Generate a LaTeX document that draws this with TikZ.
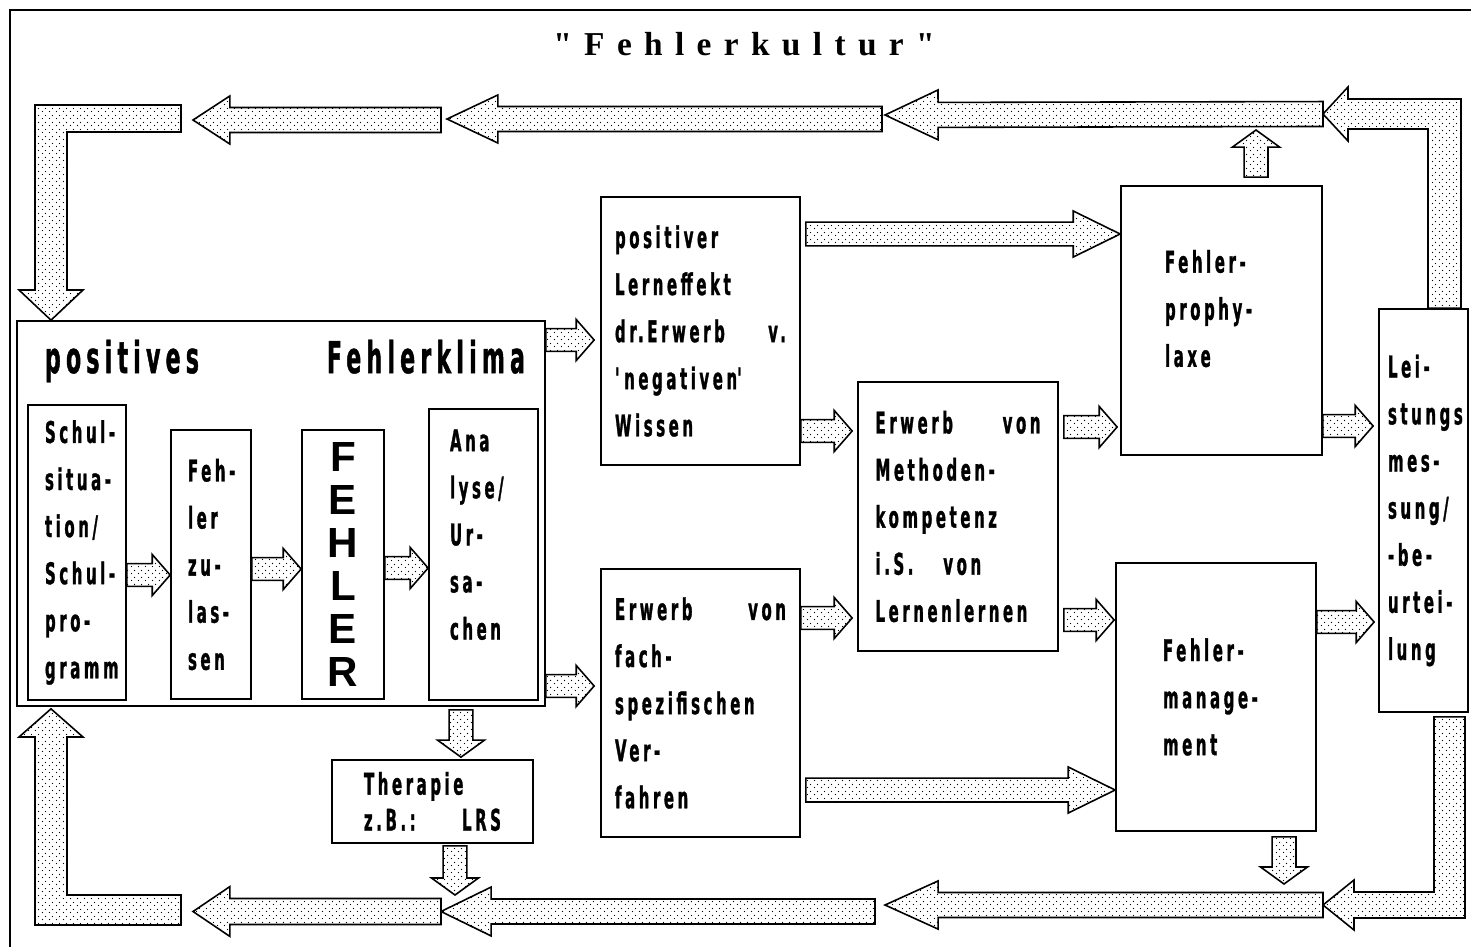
\documentclass[tikz,border=0pt]{standalone}
\usepackage{fontspec}
\usetikzlibrary{calc,positioning,patterns.meta}
\newfontfamily\pixelschrift{DejaVu Sans}[FakeStretch=0.5,LetterSpace=12,FakeBold=1]
\newfontfamily\grossschrift{Liberation Sans}
\newfontfamily\titelschrift{Liberation Serif}[LetterSpace=37]
\newcommand{\keintrennen}{\exhyphenpenalty 10000\relax\hyphenpenalty 10000\relax}
\tikzdeclarepattern{
  name=punkte,
  type=uncolored,
  bottom left={(0pt,0pt)},
  top right={(3.7pt,3.7pt)},
  tile size={(3.7pt,3.7pt)},
  code={
    \pgfpathcircle{\pgfqpoint{0.9pt}{0.9pt}}{0.4pt}
    \pgfpathcircle{\pgfqpoint{2.75pt}{2.75pt}}{0.4pt}
    \pgfusepath{fill}
  }
}
\tikzset{
  kasten/.style={
    draw,
    line width=1pt,
    inner sep=0pt,
    align=left,
    font={\pixelschrift\bfseries\fontsize{17}{26.8}\selectfont\keintrennen}
  },
  pfeil/.style={
    draw,
    line width=.9pt,
    preaction={fill=white},
    pattern=punkte,
    pattern color=black
  }
}
% #1 Anfang, #2 Spitze, #3 halbe Schaftbreite, #4 halbe Kopfbreite, #5 Kopflaenge
\newcommand{\blockpfeil}[5]{%
  \path[pfeil] let \p1=(#1), \p2=(#2),
    \n1={atan2(\y2-\y1,\x2-\x1)},
    \n2={veclen(\x2-\x1,\y2-\y1)-#5} in
    ($(\p1)+(\n1+90:#3)$) -- ($(\p1)+(\n1:{\n2*1pt})+(\n1+90:#3)$)
    -- ($(\p1)+(\n1:{\n2*1pt})+(\n1+90:#4)$) -- (\p2)
    -- ($(\p1)+(\n1:{\n2*1pt})+(\n1-90:#4)$) -- ($(\p1)+(\n1:{\n2*1pt})+(\n1-90:#3)$)
    -- ($(\p1)+(\n1-90:#3)$) -- cycle;}
\newcommand{\kleinpfeil}[2]{\blockpfeil{#1}{#2}{6.5pt}{11.7pt}{10.2pt}}
\newcommand{\senkpfeil}[2]{\blockpfeil{#1}{#2}{6.8pt}{13.4pt}{9.7pt}}
\begin{document}
\begin{tikzpicture}[x=0.02cm,y=-0.02cm]
\useasboundingbox (0,0) rectangle (1471,947);
\draw[line width=1pt] (10,947) -- (10,10) -- (1471,10);
\node[font=\titelschrift\bfseries\fontsize{19}{19}\selectfont] (titel) at (744,44) {"Fehlerkultur"};

% positives Fehlerklima
\node[kasten, minimum width=10.56cm, minimum height=7.7cm] (klima) at (281,513.5) {};
\node[font=\pixelschrift\bfseries\fontsize{25}{25}\selectfont, text width=9.6cm, align=left] (klimatext) at (285,361) {positives\hfill Fehlerklima};
\node[kasten, minimum width=1.96cm, minimum height=5.9cm, text width=1.28cm] (schul) at (77,552.5) {Schul-\\situa-\\tion/\\Schul-\\pro-\\gramm};
\node[kasten, minimum width=1.6cm, minimum height=5.38cm, text width=.92cm] (zulassen) at (211,564.5) {Feh-\\ler\\zu-\\las-\\sen};
\node[kasten, minimum width=1.64cm, minimum height=5.38cm, align=center, font=\grossschrift\bfseries\fontsize{24}{24.4}\selectfont] (fehler) at (343,564.5) {F\\E\\H\\L\\E\\R};
\node[kasten, minimum width=2.18cm, minimum height=5.82cm, text width=1.34cm] (analyse) at (483.5,554.5) {Ana\\lyse/\\Ur-\\sa-\\chen\\[-4pt]\mbox{}};
\node[kasten, minimum width=4.02cm, minimum height=1.66cm, text width=2.74cm, font={\pixelschrift\bfseries\fontsize{17}{20.5}\selectfont}] (therapie) at (432.5,801.5) {Therapie\\z.B.:\hfill LRS};

% Mitte
\node[kasten, minimum width=3.98cm, minimum height=5.36cm, text width=3.42cm] (positiver) at (700.5,331) {positiver\\Lerneffekt\\dr.Erwerb\hfill v.\\\textquotesingle negativen\textquotesingle\\Wissen};
\node[kasten, minimum width=3.98cm, minimum height=5.36cm, text width=3.42cm] (fach) at (700.5,703) {Erwerb\hfill von\\fach-\\spezifischen\\Ver-\\fahren};
\node[kasten, minimum width=4cm, minimum height=5.38cm, text width=3.3cm] (methoden) at (958,516.5) {Erwerb\hfill von\\Methoden-\\kompetenz\\i.S.\quad von\\Lernenlernen};

% rechts
\node[kasten, minimum width=4.02cm, minimum height=5.38cm, text width=2.26cm] (prophylaxe) at (1221.5,320.5) {Fehler-\\prophy-\\laxe\\[-13pt]\mbox{}};
\node[kasten, minimum width=4cm, minimum height=5.36cm, text width=2.12cm] (management) at (1216,697) {Fehler-\\manage-\\ment};
\node[kasten, minimum width=1.78cm, minimum height=8.06cm, text width=1.42cm] (leistung) at (1423.5,510.5) {Lei-\\stungs\\mes-\\sung/\\-be-\\urtei-\\lung};

% Kreislauf oben
\coordinate (o1) at (1323,114);
\coordinate (o2) at (885,115);
\coordinate (o3) at (882,119);
\coordinate (o4) at (447,119);
\coordinate (o5) at (441,120);
\coordinate (o6) at (193,120);
\path[pfeil] (leistung.north -| 1428,0) -- (1428,129) -- (1348,129) -- (1348,141) -- (o1)
  -- (1348,87) -- (1348,99) -- (1461,99) -- (leistung.north -| 1461,0) -- cycle;
\blockpfeil{o1}{o2}{7.1pt}{14.2pt}{30.2pt}
\blockpfeil{o3}{o4}{7.1pt}{13.7pt}{29pt}
\blockpfeil{o5}{o6}{7.1pt}{13.7pt}{21pt}
\path[pfeil] (181,105) -- (35,105) -- (35,290) -- (19,290) -- (klima.north -| 51,0)
  -- (83,290) -- (67,290) -- (67,132) -- (181,132) -- cycle;

% Kreislauf unten
\coordinate (u1) at (1323,905);
\coordinate (u2) at (885,905);
\coordinate (u3) at (875,911.5);
\coordinate (u4) at (441,911.5);
\coordinate (u5) at (193,911.5);
\path[pfeil] ($(leistung.south -| 1434,0)+(0,4)$) -- (1434,892) -- (1354,892) -- (1354,880) -- (u1)
  -- (1354,930) -- (1354,918) -- (1465,918) -- ($(leistung.south -| 1465,0)+(0,4)$) -- cycle;
\blockpfeil{u1}{u2}{7.1pt}{13.7pt}{30.2pt}
\blockpfeil{u3}{u4}{7.1pt}{13.9pt}{28.5pt}
\blockpfeil{u4}{u5}{7.4pt}{14.2pt}{21pt}
\path[pfeil] (181,925) -- (35,925) -- (35,737) -- (19,737) -- ($(klima.south -| 51,0)+(0,2)$)
  -- (83,737) -- (67,737) -- (67,895) -- (181,895) -- cycle;

% kleine Pfeile
\kleinpfeil{schul.east |- 0,575}{zulassen.west |- 0,575}
\kleinpfeil{zulassen.east |- 0,569}{fehler.west |- 0,569}
\kleinpfeil{fehler.east |- 0,568}{analyse.west |- 0,568}
\kleinpfeil{klima.east |- 0,340}{$(positiver.west |- 0,340)+(-6,0)$}
\kleinpfeil{klima.east |- 0,686}{$(fach.west |- 0,686)+(-6,0)$}
\kleinpfeil{positiver.east |- 0,431}{$(methoden.west |- 0,431)+(-5,0)$}
\kleinpfeil{fach.east |- 0,618}{$(methoden.west |- 0,618)+(-5,0)$}
\kleinpfeil{$(methoden.east |- 0,427)+(5,0)$}{$(prophylaxe.west |- 0,427)+(-3,0)$}
\kleinpfeil{$(methoden.east |- 0,620)+(5,0)$}{$(management.west |- 0,620)+(-1,0)$}
\kleinpfeil{prophylaxe.east |- 0,426}{$(leistung.west |- 0,426)+(-5,0)$}
\kleinpfeil{management.east |- 0,622}{$(leistung.west |- 0,622)+(-4,0)$}
\blockpfeil{$(positiver.east |- 0,234)+(5,0)$}{prophylaxe.west |- 0,234}{6.8pt}{13.1pt}{26.7pt}
\blockpfeil{$(fach.east |- 0,790)+(5,0)$}{management.west |- 0,790}{6.8pt}{13.1pt}{26.7pt}

% senkrechte Pfeile
\coordinate (therapieziel) at (455,895);
\coordinate (managementziel) at (1284,884);
\coordinate (prophylaxeziel) at (1256,130);
\senkpfeil{$(klima.south -| 461,0)+(0,3)$}{$(therapie.north -| 461,0)+(0,-2)$}
\senkpfeil{$(therapie.south -| 455,0)+(0,2)$}{therapieziel}
\senkpfeil{$(management.south -| 1284,0)+(0,5)$}{managementziel}
\senkpfeil{$(prophylaxe.north -| 1256,0)+(0,-8)$}{prophylaxeziel}
\end{tikzpicture}
\end{document}
